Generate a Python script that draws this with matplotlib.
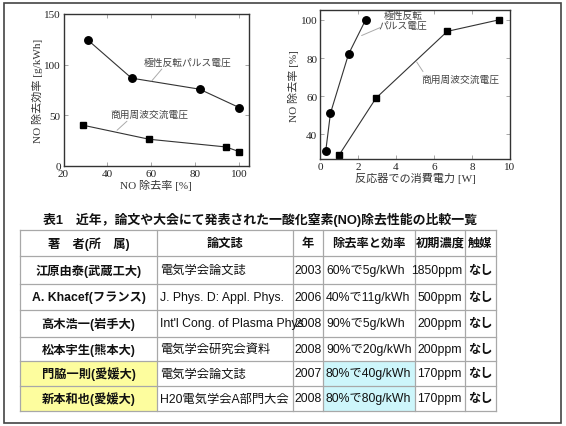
from __future__ import annotations

import matplotlib

matplotlib.use("Agg")

import matplotlib.pyplot as plt
from matplotlib.patches import Rectangle

W, H = 566, 427

SERIF = ["Liberation Serif", "Noto Sans CJK JP"]
GOTHIC = ["Liberation Sans", "Noto Sans CJK JP"]

# NO removal ratio [%] shared by both panels
pulse_ratio = [31, 51, 82, 100]
ac_ratio = [29, 59, 94, 100]

# removal efficiency [g/kWh]
pulse_eff = [124.5, 86.7, 75.8, 57.7]
ac_eff = [40.2, 26.4, 18.8, 14.2]

# power consumed in the reactor [W]
pulse_power = [0.3, 0.55, 1.5, 2.4]
ac_power = [1.0, 2.95, 6.7, 9.4]

pulse_name = "極性反転パルス電圧"
ac_name = "商用周波交流電圧"

table_title = "表1　近年，論文や大会にて発表された一酸化窒素(NO)除去性能の比較一覧"
headers = ["著　者(所　属)", "論文誌", "年", "除去率と効率", "初期濃度", "触媒"]
authors = ["江原由泰(武蔵工大)", "A. Khacef(フランス)", "高木浩一(岩手大)",
           "松本宇生(熊本大)", "門脇一則(愛媛大)", "新本和也(愛媛大)"]
journals = ["電気学会論文誌", "J. Phys. D: Appl. Phys.", "Int'l Cong. of Plasma Phys",
            "電気学会研究会資料", "電気学会論文誌", "H20電気学会A部門大会"]
years = ["2003", "2006", "2008", "2008", "2007", "2008"]
performance = ["60%で5g/kWh", "40%で11g/kWh", "90%で5g/kWh",
               "90%で20g/kWh", "80%で40g/kWh", "80%で80g/kWh"]
concentrations = ["1850ppm", "500ppm", "200ppm", "200ppm", "170ppm", "170ppm"]
catalysts = ["なし", "なし", "なし", "なし", "なし", "なし"]
own_work = [False, False, False, False, True, True]

plt.rcParams["font.family"] = SERIF


def px_box(x0, y0, x1, y1):
    return [x0 / W, 1 - y1 / H, (x1 - x0) / W, (y1 - y0) / H]


def style_axes(ax):
    for spine in ax.spines.values():
        spine.set_color("#333333")
        spine.set_linewidth(1.0)
    ax.tick_params(direction="in", top=True, right=True, length=3, width=0.6,
                   color="#999999", labelsize=8, labelcolor="#222222", pad=2)


def leader(ax, start, end):
    ax.annotate("", xy=end, xytext=start,
                arrowprops=dict(arrowstyle="-", color="#aaaaaa", lw=0.7,
                                shrinkA=0, shrinkB=0))


def draw_efficiency(fig):
    ax = fig.add_axes(px_box(63.5, 15, 249, 167))
    ax.plot(pulse_ratio, pulse_eff, "-o", color="#333333", lw=0.8, ms=5.4, mfc="black", mec="black")
    ax.plot(ac_ratio, ac_eff, "-s", color="#333333", lw=0.8, ms=4.5, mfc="black", mec="black")
    ax.set_xlim(20, 104.5)
    ax.set_ylim(0, 150)
    ax.set_xticks([20, 40, 60, 80, 100])
    ax.set_yticks([0, 50, 100, 150])
    ax.set_xlabel("NO 除去率 [%]", fontsize=8, color="#333333", labelpad=1)
    ax.set_ylabel("NO 除去効率 [g/kWh]", fontsize=8, color="#333333", labelpad=1)
    style_axes(ax)

    ax.text(76.3, 102.6, pulse_name, fontsize=7, color="#444444", ha="center", va="center")
    leader(ax, (64.8, 95.7), (60.2, 84.0))
    ax.text(59.0, 51.1, ac_name, fontsize=7, color="#444444", ha="center", va="center")
    leader(ax, (48.9, 44.2), (44.4, 35.3))


def draw_power(fig):
    ax = fig.add_axes(px_box(320, 11.4, 510, 160))
    ax.plot(pulse_power, pulse_ratio, "-o", color="#333333", lw=0.8, ms=5.4, mfc="black", mec="black")
    ax.plot(ac_power, ac_ratio, "-s", color="#333333", lw=0.8, ms=4.5, mfc="black", mec="black")
    ax.set_xlim(0, 10)
    ax.set_ylim(27, 105)
    ax.set_xticks([0, 2, 4, 6, 8, 10])
    ax.set_yticks([40, 60, 80, 100])
    ax.set_xlabel("反応器での消費電力 [W]", fontsize=8, color="#333333", labelpad=1)
    ax.set_ylabel("NO 除去率 [%]", fontsize=8, color="#333333", labelpad=1)
    style_axes(ax)

    ax.text(4.37, 99.7, "極性反転\nパルス電圧", fontsize=7, color="#444444",
            ha="center", va="center", linespacing=1.1)
    leader(ax, (3.24, 96.3), (2.19, 91.8))
    ax.text(7.37, 69.1, ac_name, fontsize=7, color="#444444", ha="center", va="center")
    leader(ax, (5.42, 72.9), (5.09, 77.9))


def draw_table(fig):
    ax = fig.add_axes([0, 0, 1, 1], zorder=-1)
    ax.set_xlim(0, W)
    ax.set_ylim(H, 0)
    ax.axis("off")

    ax.add_patch(Rectangle((3.5, 3.5), 557.5, 420, fill=False, ec="#444444", lw=1.2))

    col_edges = [20, 157, 293, 323, 415, 465, 496]
    row_edges = [231, 257, 285, 311, 338, 362, 387, 412]

    ax.text(260, 220, table_title, family=GOTHIC, fontsize=9.3, fontweight="bold",
            ha="center", va="center", color="#111111")

    columns = [authors, journals, years, performance, concentrations, catalysts]
    aligns = ["center", "left", "center", "left", "right", "left"]

    for c in range(6):
        x0, x1 = col_edges[c], col_edges[c + 1]
        y0, y1 = row_edges[0], row_edges[1]
        cell = Rectangle((x0, y0), x1 - x0, y1 - y0, fc="white", ec="none")
        ax.add_patch(cell)
        t = ax.text((x0 + x1) / 2, (y0 + y1) / 2, headers[c], family=GOTHIC, fontsize=8.8,
                    fontweight="bold", ha="center", va="center", color="#111111")
        t.set_clip_path(cell)

    for r in range(len(authors)):
        y0, y1 = row_edges[r + 1], row_edges[r + 2]
        for c in range(6):
            x0, x1 = col_edges[c], col_edges[c + 1]
            face = "white"
            if own_work[r] and c == 0:
                face = "#fdfd9e"
            elif own_work[r] and c == 3:
                face = "#cdf6fb"
            cell = Rectangle((x0, y0), x1 - x0, y1 - y0, fc=face, ec="none")
            ax.add_patch(cell)
            align = aligns[c]
            if align == "center":
                tx = (x0 + x1) / 2
            elif align == "left":
                tx = x0 + 3
            else:
                tx = x1 - 3
            weight = "bold" if c in (0, 5) else "normal"
            t = ax.text(tx, (y0 + y1) / 2, columns[c][r], family=GOTHIC, fontsize=8.8,
                        fontweight=weight, ha=align, va="center", color="#111111")
            t.set_clip_path(cell)

    for y in row_edges:
        ax.plot([col_edges[0], col_edges[-1]], [y, y], color="#a8a8a8", lw=0.9)
    for x in col_edges:
        ax.plot([x, x], [row_edges[0], row_edges[-1]], color="#a8a8a8", lw=0.9)


def main() -> None:
    fig = plt.figure(figsize=(W / 100, H / 100), dpi=100)
    fig.patch.set_facecolor("white")
    draw_table(fig)
    draw_efficiency(fig)
    draw_power(fig)
    fig.savefig("out.png", dpi=100)
    plt.close(fig)


if __name__ == "__main__":
    main()
